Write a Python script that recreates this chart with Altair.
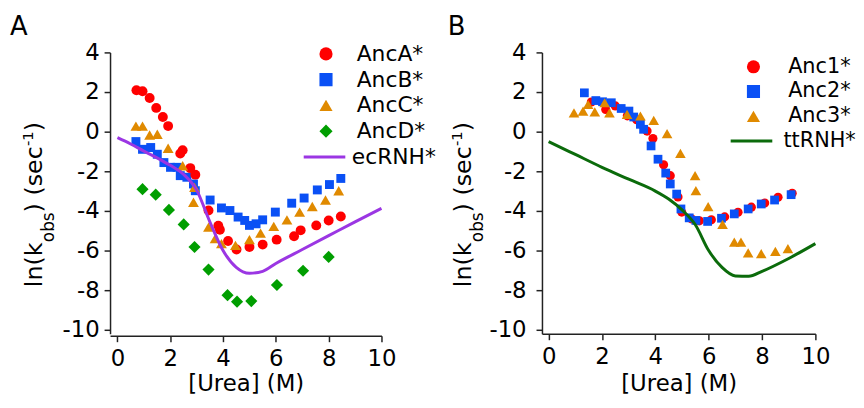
import altair as alt
import pandas as pd

FONT = "DejaVu Sans"

# ---------------- Panel A data ----------------
ancA_x = [0.72, 0.95, 1.22, 1.47, 1.72, 1.92, 2.38, 2.47, 2.76, 2.95, 3.45, 3.82, 3.88, 4.19, 4.51, 5.0, 5.5, 6.03, 6.69, 6.94, 7.53, 8.0, 8.46]
ancA_y = [2.09, 2.04, 1.7, 1.2, 0.74, 0.28, -1.1, -0.94, -1.84, -2.17, -3.98, -4.75, -4.95, -5.52, -5.95, -5.82, -5.7, -5.45, -5.28, -4.98, -4.73, -4.48, -4.28]

ancB_x = [0.7, 0.95, 1.26, 1.51, 1.76, 2.01, 2.26, 2.38, 2.63, 2.88, 2.95, 3.51, 3.94, 4.26, 4.57, 4.82, 5.0, 5.25, 5.5, 5.98, 6.6, 7.07, 7.57, 8.03, 8.46]
ancB_y = [-0.5, -0.89, -0.8, -1.14, -1.56, -1.8, -1.8, -2.22, -2.3, -2.64, -2.98, -3.45, -3.85, -3.98, -4.31, -4.48, -4.73, -4.65, -4.45, -4.06, -3.61, -3.35, -2.94, -2.67, -2.36]

ancC_x = [0.7, 0.95, 1.22, 1.51, 1.92, 2.47, 2.92, 2.88, 3.45, 3.7, 3.94, 4.47, 5.0, 5.42, 5.92, 6.42, 6.9, 7.38, 7.88, 8.38]
ancC_y = [0.28, 0.28, -0.17, -0.13, -0.84, -1.72, -2.81, -3.56, -4.82, -5.4, -5.65, -5.74, -5.45, -5.12, -4.78, -4.45, -4.06, -3.78, -3.45, -2.98]

ancD_x = [0.95, 1.45, 1.95, 2.51, 2.92, 3.45, 4.17, 4.53, 5.07, 6.04, 7.03, 8.0]
ancD_y = [-2.9, -3.18, -3.95, -4.68, -5.82, -6.96, -8.25, -8.58, -8.55, -7.74, -7.02, -6.32]

ecRNH_x = [0, 0.5, 1, 1.5, 2, 2.5, 3, 3.5, 4, 4.5, 5, 5.5, 6, 7, 8, 9, 10]
ecRNH_y = [-0.3, -0.62, -0.98, -1.32, -1.7, -2.15, -2.95, -4.55, -6.0, -6.85, -7.15, -7.05, -6.65, -5.95, -5.25, -4.55, -3.87]

series_A = ["AncA*", "AncB*", "AncC*", "AncD*"]
colors_A = ["#FF0000", "#0A50F5", "#E08A00", "#009E00"]
shapes_A = ["circle", "square", "triangle-up", "diamond"]
line_A = "ecRNH*"
line_color_A = "#9B36E3"

# ---------------- Panel B data ----------------
anc1_x = [1.6, 2.14, 2.5, 2.95, 3.3, 3.69, 3.91, 4.31, 4.56, 4.85, 4.99, 5.35, 5.65, 6.1, 6.6, 7.1, 7.6, 8.1, 8.6, 9.13]
anc1_y = [1.5, 1.12, 1.3, 0.8, 0.6, 0.03, -0.35, -1.67, -2.22, -3.3, -4.06, -4.4, -4.5, -4.45, -4.3, -4.07, -3.81, -3.6, -3.31, -3.11]

anc2_x = [1.34, 1.77, 2.02, 2.35, 2.72, 3.01, 3.19, 3.44, 3.56, 3.84, 4.1, 4.39, 4.56, 4.8, 4.96, 5.27, 5.52, 5.96, 6.48, 6.96, 7.48, 7.97, 8.47, 9.09]
anc2_y = [1.96, 1.57, 1.51, 1.46, 1.17, 1.04, 0.74, 0.37, 0.12, -0.72, -1.39, -2.09, -2.64, -3.15, -3.9, -4.35, -4.48, -4.53, -4.37, -4.15, -3.9, -3.65, -3.45, -3.18]

anc3_x = [0.95, 1.29, 1.48, 1.73, 2.1, 2.28, 2.94, 3.44, 3.94, 4.44, 4.94, 5.49, 5.52, 5.98, 6.52, 6.96, 7.21, 7.48, 7.97, 8.5, 8.97]
anc3_y = [0.95, 1.04, 1.37, 1.0, 1.46, 0.95, 0.87, 0.79, 0.57, -0.1, -1.1, -2.22, -2.98, -3.78, -4.68, -5.57, -5.57, -6.12, -6.16, -6.04, -5.9]

ttRNH_x = [0, 1, 2, 3, 4, 4.5, 5, 5.5, 6, 6.5, 7, 7.5, 8, 9, 10]
ttRNH_y = [-0.5, -1.15, -1.8, -2.4, -3.0, -3.4, -3.95, -4.7, -6.0, -6.85, -7.28, -7.3, -7.05, -6.4, -5.65]

series_B = ["Anc1*", "Anc2*", "Anc3*"]
colors_B = ["#FF0000", "#0A50F5", "#E08A00"]
shapes_B = ["circle", "square", "triangle-up"]
line_B = "ttRNH*"
line_color_B = "#0B6B0B"

x_ticks = [0, 2, 4, 6, 8, 10]
y_ticks = [-10, -8, -6, -4, -2, 0, 2, 4]


def frame(xs, ys, name):
    return pd.DataFrame({"urea": xs, "lnk": ys, "series": name})


def text_layer(s, x, y, size, angle=270):
    return alt.Chart(pd.DataFrame({"t": [s]})).mark_text(
        font=FONT, fontSize=size, angle=angle, align="left",
        baseline="alphabetic", color="black"
    ).encode(text="t:N", x=alt.value(x), y=alt.value(y))


def make_panel(points, line_df, series, colors, shapes, line_name, line_color,
               letter, letter_x, px, py, plab, lx, ly, llab, row_pad, lfont,
               ylabpad, xoff, xlabpad, xtitlepad, tx, width, xmin):
    xs = alt.Scale(domain=[xmin, 10], nice=False, zero=False)
    ys = alt.Scale(domain=[-10.2, 4], nice=False, zero=False)
    cs = alt.Scale(domain=series, range=colors)
    ss = alt.Scale(domain=series, range=shapes)
    ls = alt.Scale(domain=[line_name], range=[line_color])
    common = dict(title=None, orient="none", labelFont=FONT, labelFontSize=lfont,
                  labelColor="black", clipHeight=23, rowPadding=row_pad,
                  padding=0, labelLimit=300, symbolOpacity=1)
    pt_legend = alt.Legend(legendX=px, legendY=py, labelOffset=plab,
                           symbolSize=175, symbolStrokeWidth=0, **common)
    ln_legend = alt.Legend(legendX=lx, legendY=ly, labelOffset=llab,
                           symbolSize=1764, symbolStrokeWidth=3,
                           symbolType="stroke", **common)
    x_axis = alt.Axis(
        values=x_ticks, grid=False, title="[Urea] (M)", offset=xoff,
        domainColor="#222", domainWidth=1.5, tickColor="#222", tickWidth=1.5,
        tickSize=6, labelFont=FONT, labelFontSize=23, labelColor="black",
        labelPadding=xlabpad, titleFont=FONT, titleFontSize=23,
        titleFontWeight="normal", titleColor="black", titlePadding=xtitlepad,
        labelFlush=False,
    )
    y_axis = alt.Axis(
        values=y_ticks, grid=False, title=None, labelExpr="'' + datum.value",
        domainColor="#222", domainWidth=1.5, tickColor="#222", tickWidth=1.5,
        tickSize=6, labelFont=FONT, labelFontSize=23, labelColor="black",
        labelPadding=ylabpad,
    )
    xenc = alt.X("urea:Q", scale=xs, axis=x_axis)
    yenc = alt.Y("lnk:Q", scale=ys, axis=y_axis)
    layers = []
    for df, msize in points:
        layers.append(
            alt.Chart(df).mark_point(filled=True, opacity=1, size=msize, strokeWidth=0)
            .encode(x=xenc, y=yenc,
                    color=alt.Color("series:N", scale=cs, legend=pt_legend),
                    shape=alt.Shape("series:N", scale=ss, legend=pt_legend))
        )
    layers.append(
        alt.Chart(line_df).mark_line(strokeWidth=3, interpolate="monotone")
        .encode(x=xenc, y=yenc,
                stroke=alt.Stroke("series:N", scale=ls, legend=ln_legend))
    )
    # y-axis title with subscript and superscript (rotated pieces)
    layers += [
        text_layer("ln(k", tx, 237, 24),
        text_layer("obs", tx + 12, 191.5, 17),
        text_layer(") (sec", tx, 161.5, 24),
        text_layer("-1", tx - 9, 94.5, 15),
        text_layer(")", tx, 79.5, 24),
        text_layer(letter, letter_x, -18, 26, angle=0),
    ]
    return alt.layer(*layers).properties(width=width, height=284)


panel_A = make_panel(
    points=[(frame(ancD_x, ancD_y, "AncD*"), 150),
            (frame(ancB_x, ancB_y, "AncB*"), 81),
            (frame(ancA_x, ancA_y, "AncA*"), 100),
            (frame(ancC_x, ancC_y, "AncC*"), 120)],
    line_df=frame(ecRNH_x, ecRNH_y, line_A),
    series=series_A, colors=colors_A, shapes=shapes_A,
    line_name=line_A, line_color=line_color_A,
    letter="A", letter_x=-101,
    px=207, py=-10, plab=20, lx=194, ly=94, llab=5, row_pad=3, lfont=22,
    ylabpad=5, xoff=2, xlabpad=6, xtitlepad=2, tx=-69, width=274, xmin=-0.28,
)

panel_B = make_panel(
    points=[(frame(anc1_x, anc1_y, "Anc1*"), 85),
            (frame(anc2_x, anc2_y, "Anc2*"), 78),
            (frame(anc3_x, anc3_y, "Anc3*"), 115)],
    line_df=frame(ttRNH_x, ttRNH_y, line_B),
    series=series_B, colors=colors_B, shapes=shapes_B,
    line_name=line_B, line_color=line_color_B,
    letter="B", letter_x=-95,
    px=203, py=3, plab=24.5, lx=189, ly=78, llab=9.7, row_pad=2, lfont=21,
    ylabpad=10, xoff=0, xlabpad=6, xtitlepad=4, tx=-72, width=276, xmin=-0.25,
)

chart = alt.hconcat(panel_A, panel_B, spacing=162, bounds="flush").resolve_scale(
    color="independent", shape="independent", stroke="independent"
).resolve_legend(
    color="independent", shape="independent", stroke="independent"
).configure_view(stroke=None).properties(
    padding={"left": 2, "top": 4, "right": 0, "bottom": 0},
    background="white",
)

chart.save("out.html", embed_options={"renderer": "svg", "actions": False})
